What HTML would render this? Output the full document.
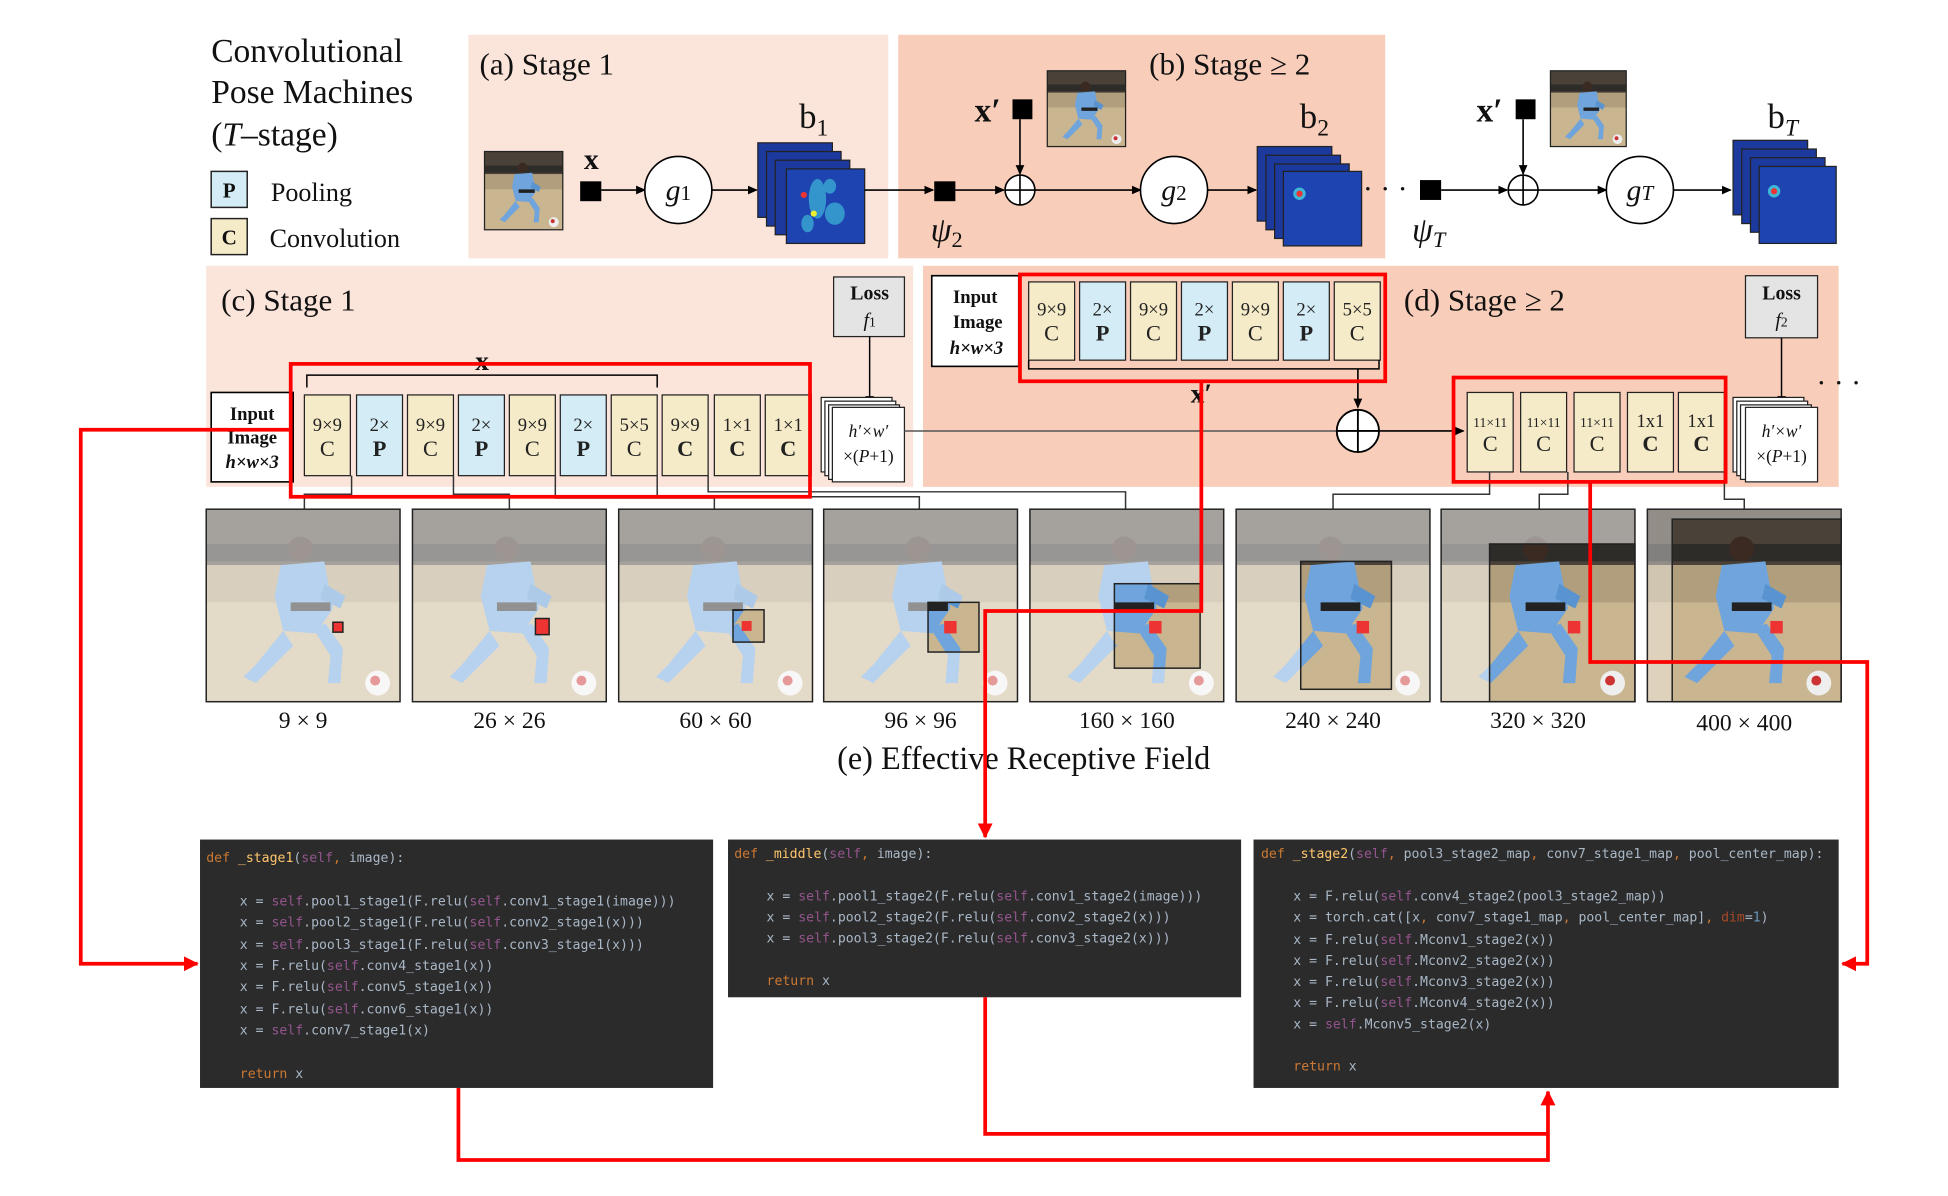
<!DOCTYPE html>
<html><head><meta charset="utf-8">
<style>
html,body{margin:0;padding:0;background:#fff;}
svg{display:block;}
.s{font-family:"Liberation Serif",serif;fill:#111;}
.m{font-family:"DejaVu Sans Mono","Liberation Mono",monospace;font-size:10.6px;fill:#a9b7c6;}
.k{fill:#cc7832}.sf{fill:#94558d}.fn{fill:#ffc66d}.n{fill:#6897bb}.pa{fill:#aa4926}
.bt{font-family:"Liberation Serif",serif;font-size:15px;text-anchor:middle;fill:#222;}
</style></head>
<body>
<svg width="1948" height="1196" viewBox="0 0 1568 963" preserveAspectRatio="none" xmlns="http://www.w3.org/2000/svg">
<defs>
<symbol id="ph" viewBox="0 0 156 155">
<rect width="156" height="155" fill="#c9b590"/>
<rect width="156" height="45" fill="#4a4238"/>
<rect y="28" width="156" height="14" fill="#2e2c28"/>
<rect y="45" width="156" height="30" fill="#b09e7c"/>
<circle cx="76" cy="32" r="10" fill="#3b2a22"/>
<path d="M60 45 L95 42 L102 80 L88 100 L62 98 L55 70 Z" fill="#6fa4dc"/>
<path d="M62 98 L40 125 L30 135 L40 140 L70 110 Z" fill="#6fa4dc"/>
<path d="M86 96 L100 118 L98 140 L108 140 L110 112 L96 92 Z" fill="#6fa4dc"/>
<path d="M95 60 L112 70 L108 80 L92 72Z" fill="#5a94d0"/>
<path d="M68 75 L100 75 L100 82 L68 82 Z" fill="#222"/>
<circle cx="138" cy="140" r="10" fill="#eee"/><circle cx="136" cy="138" r="4" fill="#c33"/>
</symbol>
<marker id="ah" markerWidth="8" markerHeight="8" refX="7" refY="4" orient="auto" markerUnits="userSpaceOnUse"><path d="M0 0.5 L8 4 L0 7.5Z" fill="#000"/></marker>
<marker id="rh" markerWidth="12" markerHeight="12" refX="11" refY="6" orient="auto" markerUnits="userSpaceOnUse"><path d="M0 0 L12 6 L0 12Z" fill="#f00"/></marker>
</defs>

<text class="s" x="170" y="50" font-size="27">Convolutional</text>
<text class="s" x="170" y="83" font-size="27">Pose Machines</text>
<text class="s" x="170" y="117" font-size="27">(<tspan font-style="italic">T</tspan>–stage)</text>
<rect x="170" y="138" width="29" height="29" fill="#d4ecf6" stroke="#222" stroke-width="1.2"/>
<text class="s" x="184.5" y="159" font-size="17" font-weight="bold" text-anchor="middle">P</text>
<text class="s" x="218" y="162" font-size="21">Pooling</text>
<rect x="170" y="176" width="29" height="29" fill="#f6ebc8" stroke="#222" stroke-width="1.2"/>
<text class="s" x="184.5" y="197" font-size="17" font-weight="bold" text-anchor="middle">C</text>
<text class="s" x="217" y="199" font-size="21">Convolution</text>

<rect x="377" y="28" width="338" height="180" fill="#fbe4da"/>
<rect x="723" y="28" width="392" height="180" fill="#f8cdb9"/>
<rect x="166" y="214" width="569" height="178" fill="#fbe4da"/>
<rect x="743" y="214" width="737" height="178" fill="#f8cdb9"/>

<text class="s" x="386" y="60" font-size="25">(a) Stage 1</text>
<text class="s" x="925" y="60" font-size="25">(b) Stage ≥ 2</text>
<text class="s" x="178" y="250" font-size="25">(c) Stage 1</text>
<text class="s" x="1130" y="250" font-size="25">(d) Stage ≥ 2</text>

<svg x="390" y="122" width="63" height="63" viewBox="0 0 156 155" preserveAspectRatio="none"><use href="#ph"/></svg>
<rect x="390" y="122" width="63" height="63" fill="none" stroke="#222"/>
<text class="s" x="476" y="136" font-size="24" text-anchor="middle" font-weight="bold">x</text>
<rect x="467" y="146" width="17" height="16" fill="#000"/>
<line x1="484" y1="153" x2="519" y2="153" stroke="#000" stroke-width="1.3" marker-end="url(#ah)"/>
<circle cx="546" cy="153" r="27" fill="#fff" stroke="#000" stroke-width="1.3"/>
<text class="s" x="546" y="161" font-size="24" font-style="italic" text-anchor="middle">g<tspan font-size="17" font-style="normal">1</tspan></text>
<line x1="573" y1="153" x2="609" y2="153" stroke="#000" stroke-width="1.3" marker-end="url(#ah)"/>
<g stroke="#222" stroke-width="1">
<rect x="610" y="115" width="60" height="60" fill="#1c3a9e"/>
<rect x="617" y="122" width="60" height="60" fill="#1c3a9e"/>
<rect x="624" y="129" width="60" height="60" fill="#1c3a9e"/>
<rect x="633" y="136" width="63" height="60" fill="#1d44b0"/>
</g>
<g fill="#3fb6d8" opacity="0.7"><ellipse cx="658" cy="160" rx="7" ry="16"/><ellipse cx="672" cy="172" rx="8" ry="9"/><ellipse cx="650" cy="180" rx="5" ry="7"/><ellipse cx="668" cy="150" rx="5" ry="6"/></g>
<circle cx="647" cy="157" r="2.5" fill="#e33"/><circle cx="655" cy="172" r="2.5" fill="#ee3"/>
<text class="s" x="655" y="103" font-size="28" text-anchor="middle">b<tspan font-size="19" dy="6">1</tspan></text>

<line x1="696" y1="153" x2="751" y2="153" stroke="#000" stroke-width="1.3" marker-end="url(#ah)"/>
<rect x="752" y="146" width="17" height="16" fill="#000"/>
<text class="s" x="762" y="194" font-size="27" font-style="italic" text-anchor="middle">ψ<tspan font-size="18" font-style="normal" dy="5">2</tspan></text>
<line x1="769" y1="153" x2="808" y2="153" stroke="#000" stroke-width="1.3" marker-end="url(#ah)"/>
<circle cx="821" cy="153" r="12" fill="#fff" stroke="#000" stroke-width="1.3"/>
<path d="M809 153 H833 M821 141 V165" stroke="#000" stroke-width="1.3"/>
<text class="s" x="795" y="98" font-size="27" font-weight="bold" text-anchor="middle">x′</text>
<rect x="815" y="80" width="16" height="16" fill="#000"/>
<line x1="821" y1="96" x2="821" y2="140" stroke="#000" stroke-width="1.3" marker-end="url(#ah)"/>
<svg x="843" y="57" width="63" height="61" viewBox="0 0 156 155" preserveAspectRatio="none"><use href="#ph"/></svg>
<rect x="843" y="57" width="63" height="61" fill="none" stroke="#222"/>
<line x1="833" y1="153" x2="918" y2="153" stroke="#000" stroke-width="1.3" marker-end="url(#ah)"/>
<circle cx="945" cy="153" r="27" fill="#fff" stroke="#000" stroke-width="1.3"/>
<text class="s" x="945" y="161" font-size="24" font-style="italic" text-anchor="middle">g<tspan font-size="17" font-style="normal">2</tspan></text>
<line x1="972" y1="153" x2="1011" y2="153" stroke="#000" stroke-width="1.3" marker-end="url(#ah)"/>
<g stroke="#222" stroke-width="1">
<rect x="1012" y="118" width="60" height="60" fill="#1c3a9e"/>
<rect x="1019" y="125" width="60" height="60" fill="#1c3a9e"/>
<rect x="1026" y="132" width="60" height="60" fill="#1c3a9e"/>
<rect x="1033" y="138" width="63" height="60" fill="#1d44b0"/>
</g>
<circle cx="1046" cy="156" r="5" fill="#3fb6d8"/><circle cx="1046" cy="156" r="2.5" fill="#e33"/>
<text class="s" x="1058" y="103" font-size="28" text-anchor="middle">b<tspan font-size="19" dy="6">2</tspan></text>
<text class="s" x="1115" y="160" font-size="24" text-anchor="middle">· · ·</text>
<rect x="1143" y="145" width="17" height="16" fill="#000"/>
<text class="s" x="1150" y="194" font-size="27" font-style="italic" text-anchor="middle">ψ<tspan font-size="18" dy="5">T</tspan></text>
<line x1="1160" y1="153" x2="1213" y2="153" stroke="#000" stroke-width="1.3" marker-end="url(#ah)"/>
<circle cx="1226" cy="153" r="12" fill="#fff" stroke="#000" stroke-width="1.3"/>
<path d="M1214 153 H1238 M1226 141 V165" stroke="#000" stroke-width="1.3"/>
<text class="s" x="1199" y="98" font-size="27" font-weight="bold" text-anchor="middle">x′</text>
<rect x="1220" y="80" width="16" height="16" fill="#000"/>
<line x1="1226" y1="96" x2="1226" y2="140" stroke="#000" stroke-width="1.3" marker-end="url(#ah)"/>
<svg x="1248" y="57" width="61" height="61" viewBox="0 0 156 155" preserveAspectRatio="none"><use href="#ph"/></svg>
<rect x="1248" y="57" width="61" height="61" fill="none" stroke="#222"/>
<line x1="1238" y1="153" x2="1293" y2="153" stroke="#000" stroke-width="1.3" marker-end="url(#ah)"/>
<circle cx="1320" cy="153" r="27" fill="#fff" stroke="#000" stroke-width="1.3"/>
<text class="s" x="1320" y="161" font-size="24" font-style="italic" text-anchor="middle">g<tspan font-size="17">T</tspan></text>
<line x1="1347" y1="153" x2="1393" y2="153" stroke="#000" stroke-width="1.3" marker-end="url(#ah)"/>
<g stroke="#222" stroke-width="1">
<rect x="1395" y="113" width="60" height="60" fill="#1c3a9e"/>
<rect x="1402" y="120" width="60" height="60" fill="#1c3a9e"/>
<rect x="1409" y="127" width="60" height="60" fill="#1c3a9e"/>
<rect x="1416" y="134" width="62" height="62" fill="#1d44b0"/>
</g>
<circle cx="1428" cy="154" r="5" fill="#3fb6d8"/><circle cx="1428" cy="154" r="2.5" fill="#e33"/>
<text class="s" x="1435" y="103" font-size="28" text-anchor="middle">b<tspan font-size="19" font-style="italic" dy="6">T</tspan></text>

<rect x="170" y="316" width="66" height="72" fill="#fff" stroke="#000" stroke-width="1.3"/>
<text class="s" x="203" y="338" font-size="15" font-weight="bold" text-anchor="middle">Input</text>
<text class="s" x="203" y="357" font-size="15" font-weight="bold" text-anchor="middle">Image</text>
<text class="s" x="203" y="377" font-size="15" font-weight="bold" font-style="italic" text-anchor="middle">h×w×3</text>
<g stroke="#222" stroke-width="1">
<rect x="245" y="318" width="37" height="65" fill="#f6ebc8"/>
<rect x="287" y="318" width="37" height="65" fill="#d4ecf6"/>
<rect x="328" y="318" width="37" height="65" fill="#f6ebc8"/>
<rect x="369" y="318" width="37" height="65" fill="#d4ecf6"/>
<rect x="410" y="318" width="37" height="65" fill="#f6ebc8"/>
<rect x="451" y="318" width="37" height="65" fill="#d4ecf6"/>
<rect x="492" y="318" width="37" height="65" fill="#f6ebc8"/>
<rect x="533" y="318" width="37" height="65" fill="#f6ebc8"/>
<rect x="575" y="318" width="37" height="65" fill="#f6ebc8"/>
<rect x="616" y="318" width="37" height="65" fill="#f6ebc8"/>
</g>
<g class="bt">
<text x="263.5" y="347">9×9</text><text x="263.5" y="367" font-size="18">C</text>
<text x="305.5" y="347">2×</text><text x="305.5" y="367" font-size="18" font-weight="bold">P</text>
<text x="346.5" y="347">9×9</text><text x="346.5" y="367" font-size="18">C</text>
<text x="387.5" y="347">2×</text><text x="387.5" y="367" font-size="18" font-weight="bold">P</text>
<text x="428.5" y="347">9×9</text><text x="428.5" y="367" font-size="18">C</text>
<text x="469.5" y="347">2×</text><text x="469.5" y="367" font-size="18" font-weight="bold">P</text>
<text x="510.5" y="347">5×5</text><text x="510.5" y="367" font-size="18">C</text>
<text x="551.5" y="347">9×9</text><text x="551.5" y="367" font-size="18" font-weight="bold">C</text>
<text x="593.5" y="347">1×1</text><text x="593.5" y="367" font-size="18" font-weight="bold">C</text>
<text x="634.5" y="347">1×1</text><text x="634.5" y="367" font-size="18" font-weight="bold">C</text>
</g>
<path d="M247 312 V302 H529 V312" fill="none" stroke="#000" stroke-width="1.2"/>
<text class="s" x="388" y="298" font-size="22" font-weight="bold" text-anchor="middle">x</text>
<rect x="671" y="223" width="57" height="48" fill="#e4e4e4" stroke="#222"/>
<text class="s" x="700" y="241" font-size="16" font-weight="bold" text-anchor="middle">Loss</text>
<text class="s" x="700" y="263" font-size="16" font-style="italic" text-anchor="middle">f<tspan font-size="11" font-style="normal">1</tspan></text>
<line x1="700" y1="271" x2="700" y2="326" stroke="#000" stroke-width="1.2" marker-end="url(#ah)"/>
<g stroke="#222" fill="#fff">
<rect x="661" y="320" width="57" height="60"/><rect x="664" y="323" width="57" height="60"/><rect x="667" y="326" width="57" height="60"/><rect x="670" y="328" width="58" height="60"/>
</g>
<text class="s" x="699" y="352" font-size="14" font-style="italic" text-anchor="middle">h′×w′</text>
<text class="s" x="699" y="372" font-size="14" text-anchor="middle">×(<tspan font-style="italic">P</tspan>+1)</text>
<line x1="728" y1="347" x2="1076" y2="347" stroke="#555" stroke-width="1.2"/>

<rect x="750" y="222" width="70" height="73" fill="#fff" stroke="#000" stroke-width="1.3"/>
<text class="s" x="785" y="244" font-size="15" font-weight="bold" text-anchor="middle">Input</text>
<text class="s" x="787" y="264" font-size="15" font-weight="bold" text-anchor="middle">Image</text>
<text class="s" x="786" y="285" font-size="15" font-weight="bold" font-style="italic" text-anchor="middle">h×w×3</text>
<g stroke="#222" stroke-width="1">
<rect x="828" y="227" width="37" height="63" fill="#f6ebc8"/>
<rect x="869" y="227" width="37" height="63" fill="#d4ecf6"/>
<rect x="910" y="227" width="37" height="63" fill="#f6ebc8"/>
<rect x="951" y="227" width="37" height="63" fill="#d4ecf6"/>
<rect x="992" y="227" width="37" height="63" fill="#f6ebc8"/>
<rect x="1033" y="227" width="37" height="63" fill="#d4ecf6"/>
<rect x="1074" y="227" width="37" height="63" fill="#f6ebc8"/>
</g>
<g class="bt">
<text x="846.5" y="254">9×9</text><text x="846.5" y="274" font-size="18">C</text>
<text x="887.5" y="254">2×</text><text x="887.5" y="274" font-size="18" font-weight="bold">P</text>
<text x="928.5" y="254">9×9</text><text x="928.5" y="274" font-size="18">C</text>
<text x="969.5" y="254">2×</text><text x="969.5" y="274" font-size="18" font-weight="bold">P</text>
<text x="1010.5" y="254">9×9</text><text x="1010.5" y="274" font-size="18">C</text>
<text x="1051.5" y="254">2×</text><text x="1051.5" y="274" font-size="18" font-weight="bold">P</text>
<text x="1092.5" y="254">5×5</text><text x="1092.5" y="274" font-size="18">C</text>
</g>
<path d="M828 290 V297 H1110 V290" fill="none" stroke="#000" stroke-width="1.2"/>
<text class="s" x="967" y="324" font-size="22" font-weight="bold" text-anchor="middle">x′</text>
<line x1="1093" y1="297" x2="1093" y2="328" stroke="#000" stroke-width="1.3" marker-end="url(#ah)"/>
<circle cx="1093" cy="347" r="17" fill="#fff" stroke="#000" stroke-width="1.5"/>
<path d="M1076 347 H1110 M1093 330 V364" stroke="#000" stroke-width="1.5"/>
<line x1="1110" y1="347" x2="1178" y2="347" stroke="#000" stroke-width="1.3" marker-end="url(#ah)"/>
<g stroke="#222" stroke-width="1" fill="#f6ebc8">
<rect x="1181" y="316" width="37" height="64"/><rect x="1224" y="316" width="37" height="64"/><rect x="1267" y="316" width="37" height="64"/><rect x="1310" y="316" width="37" height="64"/><rect x="1351" y="316" width="37" height="64"/>
</g>
<g class="bt">
<text x="1199.5" y="344" font-size="11">11×11</text><text x="1199.5" y="363" font-size="18">C</text>
<text x="1242.5" y="344" font-size="11">11×11</text><text x="1242.5" y="363" font-size="18">C</text>
<text x="1285.5" y="344" font-size="11">11×11</text><text x="1285.5" y="363" font-size="18">C</text>
<text x="1328.5" y="344">1x1</text><text x="1328.5" y="363" font-size="18" font-weight="bold">C</text>
<text x="1369.5" y="344">1x1</text><text x="1369.5" y="363" font-size="18" font-weight="bold">C</text>
</g>
<rect x="1405" y="222" width="58" height="50" fill="#e4e4e4" stroke="#222"/>
<text class="s" x="1434" y="241" font-size="16" font-weight="bold" text-anchor="middle">Loss</text>
<text class="s" x="1434" y="263" font-size="16" font-style="italic" text-anchor="middle">f<tspan font-size="11" font-style="normal">2</tspan></text>
<line x1="1434" y1="272" x2="1434" y2="326" stroke="#000" stroke-width="1.2" marker-end="url(#ah)"/>
<g stroke="#222" fill="#fff">
<rect x="1395" y="320" width="57" height="60"/><rect x="1398" y="323" width="57" height="60"/><rect x="1401" y="326" width="57" height="60"/><rect x="1405" y="328" width="58" height="60"/>
</g>
<text class="s" x="1434" y="352" font-size="14" font-style="italic" text-anchor="middle">h′×w′</text>
<text class="s" x="1434" y="372" font-size="14" text-anchor="middle">×(<tspan font-style="italic">P</tspan>+1)</text>
<text class="s" x="1480" y="316" font-size="24" text-anchor="middle">· · ·</text>

<g fill="none" stroke="#333" stroke-width="1.2">
<path d="M283 383 V398 H245 V410"/>
<path d="M365 383 V398 H410 V410"/>
<path d="M447 383 V401 H575 V410"/>
<path d="M529 383 V400 H740 V410"/>
<path d="M570 383 V396 H906 V410"/>
<path d="M1199 380 V398 H1073 V410"/>
<path d="M1262 380 V398 H1239 V410"/>
<path d="M1388 380 V402 H1404 V410"/>
</g>

<g>
<svg x="166" y="410" width="156" height="155"><use href="#ph"/><rect width="156" height="155" fill="#fff" opacity="0.5"/></svg>
<svg x="332" y="410" width="156" height="155"><use href="#ph"/><rect width="156" height="155" fill="#fff" opacity="0.5"/></svg>
<svg x="498" y="410" width="156" height="155"><use href="#ph"/><rect width="156" height="155" fill="#fff" opacity="0.5"/></svg>
<svg x="663" y="410" width="156" height="155"><use href="#ph"/><rect width="156" height="155" fill="#fff" opacity="0.5"/></svg>
<svg x="829" y="410" width="156" height="155"><use href="#ph"/><rect width="156" height="155" fill="#fff" opacity="0.5"/></svg>
<svg x="995" y="410" width="156" height="155"><use href="#ph"/><rect width="156" height="155" fill="#fff" opacity="0.5"/></svg>
<svg x="1160" y="410" width="156" height="155"><use href="#ph"/><rect width="156" height="155" fill="#fff" opacity="0.5"/></svg>
<svg x="1326" y="410" width="156" height="155"><use href="#ph"/><rect width="156" height="155" fill="#fff" opacity="0.4"/></svg>
</g>
<svg x="590" y="491" width="25" height="26" viewBox="92 81 25 26"><use href="#ph" width="156" height="155"/></svg>
<svg x="747" y="485" width="41" height="40" viewBox="84 75 41 40"><use href="#ph" width="156" height="155"/></svg>
<svg x="897" y="470" width="69" height="68" viewBox="68 60 69 68"><use href="#ph" width="156" height="155"/></svg>
<svg x="1047" y="452" width="73" height="103" viewBox="52 42 73 103"><use href="#ph" width="156" height="155"/></svg>
<svg x="1199" y="438" width="117" height="127" viewBox="39 28 117 127"><use href="#ph" width="156" height="155"/></svg>
<svg x="1346" y="418" width="136" height="147" viewBox="20 8 136 147"><use href="#ph" width="156" height="155"/></svg>
<g fill="none" stroke="#222" stroke-width="1.2">
<rect x="166" y="410" width="156" height="155"/><rect x="332" y="410" width="156" height="155"/><rect x="498" y="410" width="156" height="155"/><rect x="663" y="410" width="156" height="155"/><rect x="829" y="410" width="156" height="155"/><rect x="995" y="410" width="156" height="155"/><rect x="1160" y="410" width="156" height="155"/><rect x="1326" y="410" width="156" height="155"/>
<rect x="268" y="501" width="8" height="8" fill="#e33"/>
<rect x="431" y="498" width="11" height="13" fill="#e33"/>
<rect x="590" y="491" width="25" height="26"/>
<rect x="747" y="485" width="41" height="40"/>
<rect x="897" y="470" width="69" height="68"/>
<rect x="1047" y="452" width="73" height="103"/>
<rect x="1199" y="438" width="117" height="127"/>
<rect x="1346" y="418" width="136" height="147"/>
</g>
<g fill="#e33"><rect x="597" y="500" width="8" height="8"/><rect x="760" y="500" width="10" height="10"/><rect x="925" y="500" width="10" height="10"/><rect x="1092" y="500" width="10" height="10"/><rect x="1262" y="500" width="10" height="10"/><rect x="1425" y="500" width="10" height="10"/></g>

<g class="s" font-size="19" text-anchor="middle">
<text x="244" y="586">9 × 9</text><text x="410" y="586">26 × 26</text><text x="576" y="586">60 × 60</text><text x="741" y="586">96 × 96</text>
<text x="907" y="586">160 × 160</text><text x="1073" y="586">240 × 240</text><text x="1238" y="586">320 × 320</text><text x="1404" y="588">400 × 400</text>
</g>
<text class="s" x="824" y="619" font-size="26" text-anchor="middle">(e) Effective Receptive Field</text>

<rect x="161" y="676" width="413" height="200" fill="#2b2b2b"/>
<rect x="586" y="676" width="413" height="127" fill="#2b2b2b"/>
<rect x="1009" y="676" width="471" height="200" fill="#2b2b2b"/>
<g class="m">
<text x="166" y="694"><tspan class="k">def </tspan><tspan class="fn">_stage1</tspan>(<tspan class="sf">self</tspan><tspan class="k">,</tspan> image):</text>
<text x="193" y="729">x = <tspan class="sf">self</tspan>.pool1_stage1(F.relu(<tspan class="sf">self</tspan>.conv1_stage1(image)))</text>
<text x="193" y="746">x = <tspan class="sf">self</tspan>.pool2_stage1(F.relu(<tspan class="sf">self</tspan>.conv2_stage1(x)))</text>
<text x="193" y="764">x = <tspan class="sf">self</tspan>.pool3_stage1(F.relu(<tspan class="sf">self</tspan>.conv3_stage1(x)))</text>
<text x="193" y="781">x = F.relu(<tspan class="sf">self</tspan>.conv4_stage1(x))</text>
<text x="193" y="798">x = F.relu(<tspan class="sf">self</tspan>.conv5_stage1(x))</text>
<text x="193" y="816">x = F.relu(<tspan class="sf">self</tspan>.conv6_stage1(x))</text>
<text x="193" y="833">x = <tspan class="sf">self</tspan>.conv7_stage1(x)</text>
<text x="193" y="868"><tspan class="k">return</tspan> x</text>

<text x="591" y="691"><tspan class="k">def </tspan><tspan class="fn">_middle</tspan>(<tspan class="sf">self</tspan><tspan class="k">,</tspan> image):</text>
<text x="617" y="725">x = <tspan class="sf">self</tspan>.pool1_stage2(F.relu(<tspan class="sf">self</tspan>.conv1_stage2(image)))</text>
<text x="617" y="742">x = <tspan class="sf">self</tspan>.pool2_stage2(F.relu(<tspan class="sf">self</tspan>.conv2_stage2(x)))</text>
<text x="617" y="759">x = <tspan class="sf">self</tspan>.pool3_stage2(F.relu(<tspan class="sf">self</tspan>.conv3_stage2(x)))</text>
<text x="617" y="793"><tspan class="k">return</tspan> x</text>

<text x="1015" y="691"><tspan class="k">def </tspan><tspan class="fn">_stage2</tspan>(<tspan class="sf">self</tspan><tspan class="k">,</tspan> pool3_stage2_map<tspan class="k">,</tspan> conv7_stage1_map<tspan class="k">,</tspan> pool_center_map):</text>
<text x="1041" y="725">x = F.relu(<tspan class="sf">self</tspan>.conv4_stage2(pool3_stage2_map))</text>
<text x="1041" y="742">x = torch.cat([x<tspan class="k">,</tspan> conv7_stage1_map<tspan class="k">,</tspan> pool_center_map]<tspan class="k">,</tspan> <tspan class="pa">dim</tspan>=<tspan class="n">1</tspan>)</text>
<text x="1041" y="760">x = F.relu(<tspan class="sf">self</tspan>.Mconv1_stage2(x))</text>
<text x="1041" y="777">x = F.relu(<tspan class="sf">self</tspan>.Mconv2_stage2(x))</text>
<text x="1041" y="794">x = F.relu(<tspan class="sf">self</tspan>.Mconv3_stage2(x))</text>
<text x="1041" y="811">x = F.relu(<tspan class="sf">self</tspan>.Mconv4_stage2(x))</text>
<text x="1041" y="828">x = <tspan class="sf">self</tspan>.Mconv5_stage2(x)</text>
<text x="1041" y="862"><tspan class="k">return</tspan> x</text>
</g>

<g fill="none" stroke="#f00" stroke-width="3">
<rect x="234" y="293" width="418" height="107"/>
<rect x="821" y="221" width="294" height="86"/>
<rect x="1170" y="304" width="219" height="84"/>
<path d="M234 346 H65 V776 H159" marker-end="url(#rh)"/>
<path d="M967 307 V492 H793 V674" marker-end="url(#rh)"/>
<path d="M1280 388 V533 H1503 V776 H1483" marker-end="url(#rh)"/>
<path d="M369 876 V934 H1246 V879" marker-end="url(#rh)"/>
<path d="M793 803 V913 H1246"/>
</g>
</svg>
</body></html>
